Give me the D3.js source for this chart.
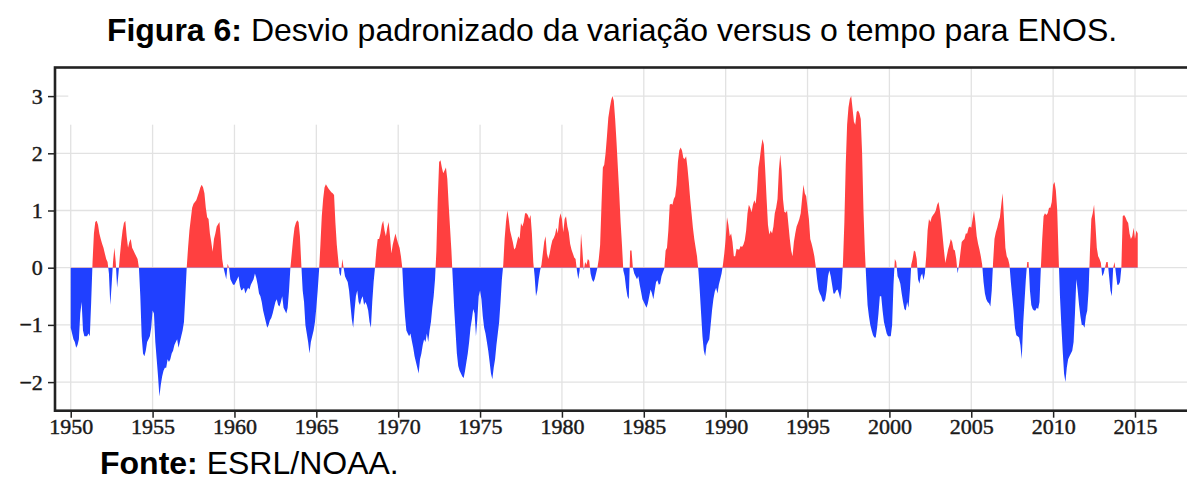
<!DOCTYPE html>
<html>
<head>
<meta charset="utf-8">
<script src="https://cdn.jsdelivr.net/npm/d3@7"></script>
<style>
  body { margin: 0; background: #fff; }
  .title, .source { font-family: "Liberation Sans", Arial, sans-serif; font-size: 32px; fill: #000; }
  .tick text { font-family: "Liberation Serif", "Times New Roman", serif; font-size: 22px; fill: #1a1a1a; stroke: #1a1a1a; stroke-width: 0.45px; }
</style>
</head>
<body>
<svg id="chart" width="1187" height="480"></svg>
<script>
// monthly index values (Jan..Dec)
var mei1950s = [
  -1.05, -1.15, -1.25, -1.3, -1.4, -1.35, -1.25, -0.8, -0.6, -1.1, -1.2, -1.2,
  -1.2, -1.15, -1.2, -0.6, 0.1, 0.6, 0.8, 0.82, 0.75, 0.6, 0.5, 0.42,
  0.35, 0.25, 0.15, 0.1, -0.1, -0.65, -0.3, 0.1, 0.35, 0.1, -0.35, -0.1,
  0.2, 0.45, 0.65, 0.78, 0.82, 0.55, 0.35, 0.45, 0.5, 0.35, 0.3, 0.25,
  0.2, 0.15, 0.0, -0.5, -1.2, -1.5, -1.55, -1.45, -1.3, -1.25, -1.2, -1.05,
  -0.75, -0.8, -1.3, -1.6, -1.9, -2.25, -2.05, -1.9, -1.8, -1.75, -1.75, -1.6,
  -1.65, -1.6, -1.5, -1.45, -1.35, -1.3, -1.25, -1.4, -1.3, -1.2, -1.1, -0.95,
  -0.5, 0.0, 0.35, 0.65, 0.85, 1.05, 1.12, 1.15, 1.18, 1.25, 1.32, 1.4,
  1.45, 1.4, 1.3, 1.05, 0.88, 0.85, 0.6, 0.45, 0.28, 0.5, 0.6, 0.72,
  0.76, 0.8, 0.5, 0.15, 0.0, -0.1, -0.2, 0.07, 0.0, -0.2, -0.25, -0.3
];
var mei1960s = [
  -0.3, -0.25, -0.2, -0.15, -0.32, -0.4, -0.38, -0.35, -0.45, -0.4, -0.35, -0.38,
  -0.3, -0.25, -0.2, -0.1, -0.18, -0.3, -0.45, -0.5, -0.6, -0.75, -0.85, -0.95,
  -1.05, -1.0, -0.92, -0.88, -0.8, -0.7, -0.6, -0.55, -0.65, -0.68, -0.6, -0.5,
  -0.7, -0.75, -0.8, -0.7, -0.4, 0.0, 0.25, 0.5, 0.7, 0.78, 0.83, 0.8,
  0.55, 0.05, -0.4, -0.6, -1.0, -1.15, -1.3, -1.5, -1.3, -1.2, -1.1, -0.95,
  -0.7, -0.4, -0.05, 0.4, 0.9, 1.2, 1.4, 1.46, 1.42, 1.38, 1.35, 1.32,
  1.3, 1.27, 0.78, 0.4, 0.15, -0.1, -0.15, 0.15, 0.0, -0.15, -0.2, -0.25,
  -0.4, -0.65, -0.9, -1.05, -0.75, -0.5, -0.4, -0.6, -0.65, -0.55, -0.5, -0.65,
  -0.6, -0.65, -0.75, -0.95, -1.05, -0.6, -0.25, 0.0, 0.3, 0.5, 0.5, 0.6,
  0.75, 0.82, 0.65, 0.55, 0.7, 0.8, 0.55, 0.25, 0.4, 0.5, 0.6, 0.5
];
var mei1970s = [
  0.42, 0.35, 0.2, 0.0, -0.5, -0.85, -1.1, -1.15, -1.2, -1.15, -1.28, -1.4,
  -1.55, -1.65, -1.75, -1.85, -1.6, -1.5, -1.35, -1.25, -1.3, -1.15, -1.3, -1.1,
  -0.95, -0.7, -0.5, -0.2, 0.3, 1.2, 1.85, 1.88, 1.75, 1.65, 1.7, 1.75,
  1.55, 1.1, 0.7, 0.3, -0.2, -0.7, -1.1, -1.5, -1.72, -1.8, -1.85, -1.9,
  -1.93, -1.8, -1.65, -1.5, -1.3, -1.05, -0.9, -0.72, -0.8, -1.2, -0.9, -0.5,
  -0.4, -0.55, -0.85, -1.05, -1.15, -1.3, -1.45, -1.65, -1.85, -1.95, -1.75, -1.6,
  -1.35, -1.15, -0.95, -0.6, -0.2, 0.05, 0.5, 0.8, 1.0, 0.85, 0.65, 0.55,
  0.45, 0.32, 0.35, 0.45, 0.55, 0.5, 0.78, 0.72, 0.8, 0.95, 0.95, 0.92,
  0.85, 0.92, 0.6, 0.1, -0.15, -0.5, -0.4, -0.2, -0.05, 0.05, 0.25, 0.45,
  0.55, 0.25, 0.15, 0.25, 0.38, 0.48, 0.52, 0.58, 0.7, 0.6, 0.85, 0.95
];
var mei1980s = [
  0.85, 0.62, 0.85, 0.9, 0.72, 0.62, 0.42, 0.32, 0.25, 0.18, 0.15, -0.05,
  -0.2, -0.05, 0.6, 0.3, -0.05, 0.1, 0.05, 0.15, 0.12, -0.1, -0.2, -0.25,
  -0.2, -0.1, 0.0, 0.15, 0.4, 1.1, 1.75, 1.8, 2.0, 2.3, 2.62, 2.78,
  2.92, 3.0, 2.92, 2.6, 2.2, 1.75, 1.3, 0.8, 0.4, -0.05, -0.15, -0.35,
  -0.5, -0.55, 0.3, 0.3, 0.0, -0.1, -0.15, -0.2, -0.15, -0.3, -0.42, -0.55,
  -0.6, -0.65, -0.7, -0.62, -0.5, -0.38, -0.45, -0.55, -0.4, -0.25, -0.22, -0.3,
  -0.28, -0.15, -0.08, -0.02, 0.3, 0.35, 0.65, 1.1, 1.12, 1.1, 1.2, 1.25,
  1.45, 1.85, 2.05, 2.1, 2.05, 1.92, 1.9, 1.95, 1.75, 1.5, 1.2, 0.95,
  0.7, 0.5, 0.35, 0.2, -0.05, -0.4, -0.8, -1.2, -1.45, -1.55, -1.35, -1.3,
  -1.25, -1.0, -0.75, -0.55, -0.42, -0.35, -0.45, -0.3, -0.2, -0.1, 0.05, 0.25
];
var mei1990s = [
  0.5, 0.88, 0.75, 0.55, 0.6, 0.45, 0.2, 0.2, 0.33, 0.32, 0.32, 0.38,
  0.36, 0.4, 0.48, 0.65, 0.95, 1.1, 1.05, 0.97, 1.1, 1.18, 1.12, 1.35,
  1.75, 1.9, 2.1, 2.25, 2.15, 1.7, 1.2, 0.75, 0.58, 0.65, 0.6, 0.72,
  0.95, 1.05, 1.2, 1.7, 1.98, 1.7, 1.2, 0.98, 0.96, 1.0, 0.75, 0.5,
  0.3, 0.2, 0.45, 0.6, 0.72, 0.78, 0.85, 0.95, 1.2, 1.45, 1.3, 1.25,
  1.05, 0.85, 0.5, 0.42, 0.32, 0.2, 0.02, -0.2, -0.38, -0.45, -0.5, -0.58,
  -0.6, -0.55, -0.4, -0.15, -0.05, -0.15, -0.3, -0.45, -0.45, -0.4, -0.38, -0.45,
  -0.55, -0.35, 0.1, 0.8, 1.8, 2.5, 2.8, 2.95, 3.0, 2.78, 2.55, 2.5,
  2.72, 2.75, 2.7, 2.6, 2.0, 1.0, 0.3, -0.2, -0.65, -0.85, -1.0, -1.1,
  -1.18, -1.22, -1.22, -1.05, -0.8, -0.5, -0.5, -0.75, -0.95, -1.05, -1.15, -1.2
];
var mei2000s = [
  -1.2, -1.2, -1.0, -0.3, 0.15, 0.1, -0.15, -0.2, -0.28, -0.45, -0.6, -0.72,
  -0.75, -0.6, -0.7, -0.4, 0.05, 0.15, 0.3, 0.28, 0.15, -0.2, -0.28, -0.15,
  -0.1, -0.22, -0.1, 0.2, 0.65, 0.85, 0.8, 0.88, 0.92, 0.95, 1.0, 1.1,
  1.15, 1.0, 0.8, 0.55, 0.3, 0.08, 0.2, 0.32, 0.4, 0.5, 0.45, 0.32,
  0.3, 0.15, -0.1, 0.05, 0.25, 0.45, 0.48, 0.5, 0.6, 0.6, 0.7, 0.72,
  0.7, 0.85, 1.0, 0.8, 0.55, 0.42, 0.32, 0.2, 0.05, -0.25, -0.45, -0.55,
  -0.6, -0.62, -0.68, -0.4, 0.1, 0.5, 0.62, 0.7, 0.8, 0.88, 1.1, 1.3,
  0.85, 0.35, 0.2, 0.15, 0.05, -0.25, -0.5, -0.75, -1.05, -1.18, -1.2, -1.22,
  -1.35, -1.6, -1.0, -0.6, -0.2, 0.1, 0.1, -0.4, -0.65, -0.72, -0.75, -0.75,
  -0.7, -0.72, -0.6, 0.0, 0.5, 0.9, 0.95, 0.92, 0.95, 1.05, 1.05, 1.15
];
var mei2010s = [
  1.45, 1.5, 1.35, 1.0, 0.2, -0.5, -1.0, -1.45, -1.85, -2.0, -1.75, -1.6,
  -1.55, -1.5, -1.45, -1.3, -0.8, -0.2, -0.4, -0.65, -0.85, -1.0, -1.0, -1.05,
  -0.85, -0.75, -0.4, 0.3, 0.85, 0.95, 1.1, 0.75, 0.35, 0.2, 0.15, 0.08,
  -0.15, -0.1, 0.0, 0.1, 0.1, -0.15, -0.4, -0.5, 0.0, 0.1, -0.1, -0.3,
  -0.3, -0.25, 0.0, 0.9, 0.92, 0.88, 0.82, 0.78, 0.6, 0.5, 0.55, 0.7,
  0.5, 0.65, 0.6
];
var startYear = 1950;
var xTicks = [1950, 1955, 1960, 1965, 1970, 1975, 1980, 1985, 1990, 1995, 2000, 2005, 2010, 2015];
var yTicks = [-2, -1, 0, 1, 2, 3];

var values = mei1950s.concat(mei1960s, mei1970s, mei1980s, mei1990s, mei2000s, mei2010s);
var series = values.map(function(v, i) {
  return { t: startYear + i / 12, v: v };
});

var svg = d3.select("#chart");

var x = d3.scaleLinear().domain([1949.04, 2019]).range([55, 1200.5]);
var y = d3.scaleLinear().domain([-2.5, 3.5]).range([410.7, 67.5]);

var plot = svg.append("g");

// grid
plot.append("g").selectAll("line")
  .data(yTicks).enter().append("line")
  .attr("x1", x.range()[0]).attr("x2", x.range()[1])
  .attr("y1", function(d) { return y(d); })
  .attr("y2", function(d) { return y(d); })
  .attr("stroke", "#e2e2e2").attr("stroke-width", 1.3);

plot.append("g").selectAll("line")
  .data(xTicks).enter().append("line")
  .attr("x1", function(d) { return x(d); })
  .attr("x2", function(d) { return x(d); })
  .attr("y1", y.range()[0]).attr("y2", y.range()[1])
  .attr("stroke", "#e2e2e2").attr("stroke-width", 1.3);

// blank patch in the upper left of the original plot
plot.append("rect")
  .attr("x", x(1949.85)).attr("y", y(3.5))
  .attr("width", x(1983.15) - x(1949.85))
  .attr("height", y(2.5) - y(3.5))
  .attr("fill", "#fff");

// positive/negative fill
var defs = svg.append("defs");
defs.append("clipPath").attr("id", "above").append("rect")
  .attr("x", 0).attr("y", 0).attr("width", 1187).attr("height", y(0));
defs.append("clipPath").attr("id", "below").append("rect")
  .attr("x", 0).attr("y", y(0)).attr("width", 1187).attr("height", 480 - y(0));

var area = d3.area()
  .x(function(d) { return x(d.t); })
  .y0(y(0))
  .y1(function(d) { return y(d.v); });

plot.append("path").datum(series)
  .attr("d", area).attr("fill", "#ff4040").attr("clip-path", "url(#above)");
plot.append("path").datum(series)
  .attr("d", area).attr("fill", "#2040ff").attr("clip-path", "url(#below)");

// axes
var xAxis = d3.axisBottom(x).tickValues(xTicks).tickFormat(d3.format("d"))
  .tickSize(7).tickSizeOuter(0);
var yAxis = d3.axisLeft(y).tickValues(yTicks).tickFormat(d3.format("d"))
  .tickSize(7).tickSizeOuter(0);

var gx = svg.append("g").attr("transform", "translate(0," + y.range()[0] + ")").call(xAxis);
var gy = svg.append("g").attr("transform", "translate(" + x.range()[0] + ",0)").call(yAxis);
gx.select(".domain").remove();
gy.select(".domain").remove();
gx.selectAll(".tick line").attr("stroke", "#222").attr("stroke-width", 1.5);
gy.selectAll(".tick line").attr("stroke", "#222").attr("stroke-width", 1.5);
gx.selectAll(".tick text").attr("y", 6).attr("dy", "0.78em");
gy.selectAll(".tick text").attr("dx", "-0.1em");

// frame
svg.append("rect")
  .attr("x", x.range()[0]).attr("y", y.range()[1])
  .attr("width", x.range()[1] - x.range()[0])
  .attr("height", y.range()[0] - y.range()[1])
  .attr("fill", "none").attr("stroke", "#222").attr("stroke-width", 2.6);

// texts
var title = svg.append("text").attr("class", "title")
  .attr("x", 612).attr("y", 41).attr("text-anchor", "middle");
title.append("tspan").attr("font-weight", "bold").text("Figura 6:");
title.append("tspan").text(" Desvio padronizado da variação versus o tempo para ENOS.");

var source = svg.append("text").attr("class", "source")
  .attr("x", 100).attr("y", 474);
source.append("tspan").attr("font-weight", "bold").text("Fonte:");
source.append("tspan").text(" ESRL/NOAA.");
</script>
</body>
</html>
